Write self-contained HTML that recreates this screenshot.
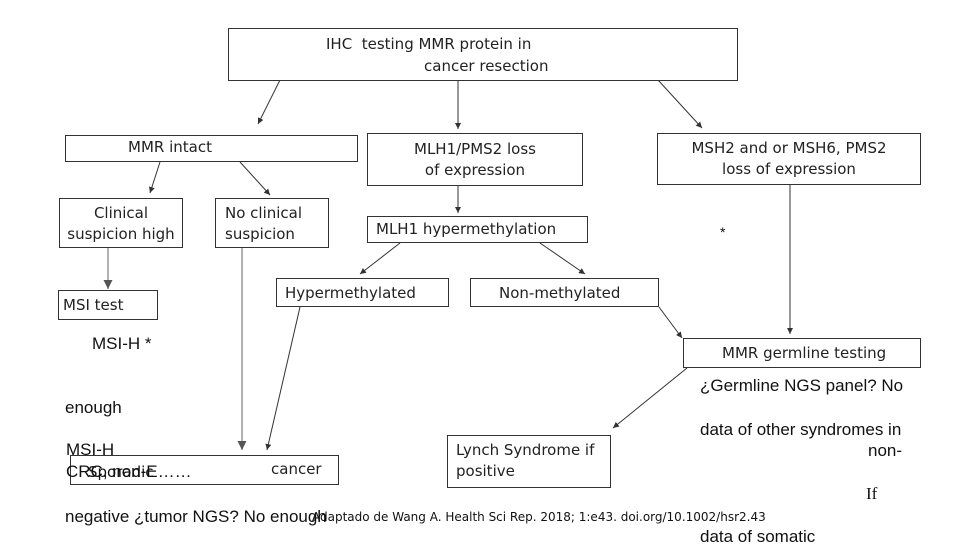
<!DOCTYPE html>
<html><head><meta charset="utf-8"><style>
body{margin:0;width:960px;height:540px;overflow:hidden;background:#fff;position:relative;font-family:"DejaVu Sans","Liberation Sans",sans-serif;color:#222}
.b{position:absolute;border:1.5px solid #333;box-sizing:border-box;font-size:15px;line-height:21px;background:#fff}
.t{position:absolute;font-family:"Liberation Sans",sans-serif;font-size:17px;color:#111;white-space:nowrap}
</style></head><body>
<svg width="960" height="540" style="position:absolute;left:0;top:0">
<defs><marker id="a" markerWidth="8" markerHeight="8" refX="6" refY="3" orient="auto"><path d="M0,0L6,3L0,6z" fill="#333"/></marker>
<marker id="g" markerWidth="8" markerHeight="8" refX="6" refY="3" orient="auto"><path d="M0,0L6,3L0,6z" fill="#555"/></marker></defs>
<g stroke="#333" stroke-width="1" marker-end="url(#a)">
<line x1="280" y1="80" x2="258" y2="124"/>
<line x1="458" y1="80" x2="458" y2="129"/>
<line x1="658" y1="80" x2="702" y2="128"/>
<line x1="160" y1="162" x2="150" y2="193"/>
<line x1="240" y1="162" x2="270" y2="195"/>
<line x1="458" y1="186" x2="458" y2="213"/>
<line x1="400" y1="243" x2="360" y2="274"/>
<line x1="540" y1="243" x2="585" y2="274"/>
<line x1="790" y1="185" x2="790" y2="334"/>
<line x1="659" y1="307" x2="682" y2="338"/>
<line x1="300" y1="307" x2="267" y2="450"/>
<line x1="687" y1="368" x2="613" y2="428"/>
</g>
<g stroke="#999" stroke-width="1.5" marker-end="url(#g)">
<line x1="108" y1="248" x2="108" y2="289"/>
<line x1="242" y1="248" x2="242" y2="450"/>
</g>
</svg>
<div class="b" style="left:228px;top:28px;width:510px;height:53px"><div style="position:absolute;left:97px;top:5px">IHC&nbsp; testing MMR protein in</div><div style="position:absolute;left:195px;top:27px">cancer resection</div></div>
<div class="b" style="left:65px;top:135px;width:293px;height:27px;padding:1px 0 0 62px">MMR intact</div>
<div class="b" style="left:367px;top:133px;width:216px;height:53px;padding:5px 0 0 0;text-align:center">MLH1/PMS2 loss<br>of expression</div>
<div class="b" style="left:657px;top:133px;width:264px;height:52px;padding:4px 0 0 0;text-align:center">MSH2 and or MSH6, PMS2<br>loss of expression</div>
<div class="b" style="left:59px;top:198px;width:124px;height:50px;padding:4px 0 0 0;text-align:center">Clinical<br>suspicion high</div>
<div class="b" style="left:215px;top:198px;width:114px;height:50px;padding:4px 0 0 9px">No clinical<br>suspicion</div>
<div class="b" style="left:367px;top:216px;width:221px;height:27px;padding:2px 0 0 8px">MLH1 hypermethylation</div>
<div class="b" style="left:276px;top:278px;width:173px;height:29px;padding:4px 0 0 8px">Hypermethylated</div>
<div class="b" style="left:470px;top:278px;width:189px;height:29px;padding:4px 0 0 28px">Non-methylated</div>
<div class="b" style="left:58px;top:290px;width:100px;height:30px;padding:4px 0 0 4px">MSI test</div>
<div class="b" style="left:683px;top:338px;width:238px;height:30px;padding:4px 0 0 38px">MMR germline testing</div>
<div class="b" style="left:447px;top:435px;width:164px;height:53px;padding:4px 0 0 8px">Lynch Syndrome if<br>positive</div>
<div class="b" style="left:70px;top:455px;width:269px;height:30px;padding:3px 0 0 200px">cancer</div>
<div class="t" style="left:92px;top:334px">MSI-H *</div>
<div class="t" style="left:65px;top:398px">enough</div>
<div class="t" style="left:66px;top:440px">MSI-H</div>
<div class="t" style="left:66px;top:462px">CRC, non-E……</div>
<div class="t" style="left:88px;top:463px;font-size:15px;font-family:'DejaVu Sans',sans-serif">Sporadic</div>
<div class="t" style="left:65px;top:507px">negative ¿tumor NGS? No enough</div>
<div class="t" style="left:312px;top:510px;font-size:12px;font-family:'DejaVu Sans',sans-serif">Adaptado de Wang A. Health Sci Rep. 2018; 1:e43. doi.org/10.1002/hsr2.43</div>
<div class="t" style="left:720px;top:224px;font-size:14px">*</div>
<div class="t" style="left:700px;top:376px">¿Germline NGS panel? No</div>
<div class="t" style="left:700px;top:420px">data of other syndromes in</div>
<div class="t" style="left:868px;top:441px">non-</div>
<div class="t" style="left:866px;top:484px;font-family:'Liberation Serif',serif">If</div>
<div class="t" style="left:700px;top:527px">data of somatic</div>
</body></html>
